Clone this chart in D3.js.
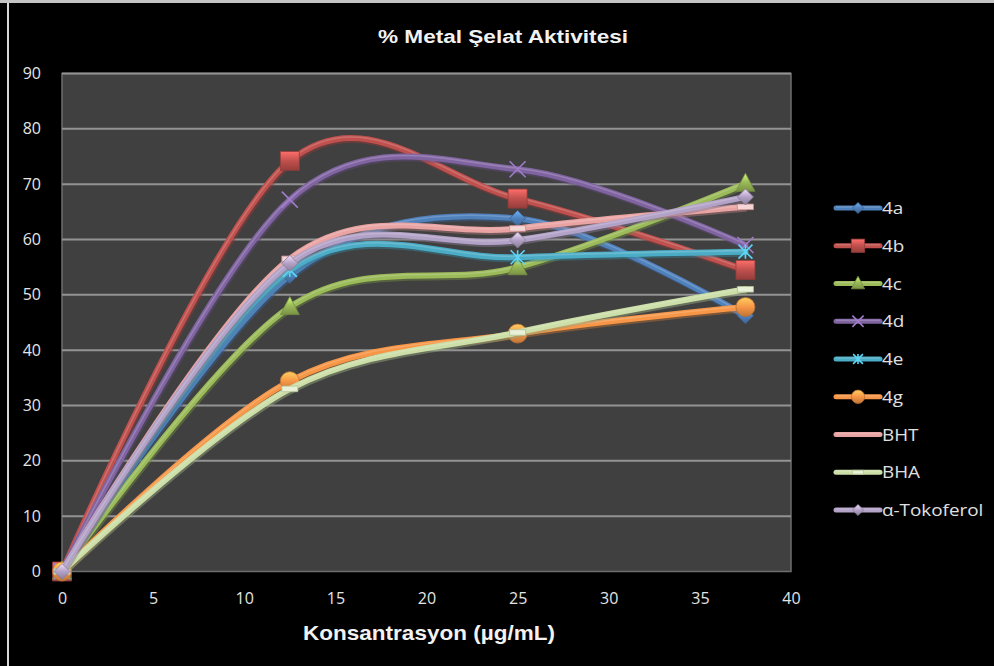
<!DOCTYPE html>
<html>
<head>
<meta charset="utf-8">
<script src="https://cdn.jsdelivr.net/npm/d3@7/dist/d3.min.js"></script>
<style>
  html, body { margin: 0; padding: 0; background: #000; }
  svg { display: block; }
</style>
</head>
<body>
<svg id="chart" width="994" height="666"></svg>
<script>
// Concentrations (µg/mL) on the x axis
const concentrations = [0, 12.5, 25, 37.5];

// % metal chelating activity per compound
const seriesNames = ["4a", "4b", "4c", "4d", "4e", "4g", "BHT", "BHA", "α-Tokoferol"];
const values4a  = [0, 53.5, 63.8, 46.2];
const values4b  = [0, 74.2, 67.4, 54.5];
const values4c  = [0, 47.8, 55.0, 70.1];
const values4d  = [0, 67.2, 72.7, 59.0];
const values4e  = [0, 54.5, 56.8, 57.8];
const values4g  = [0, 34.4, 43.0, 47.8];
const valuesBHT = [0, 56.5, 62.0, 65.9];
const valuesBHA = [0, 33.0, 43.2, 51.0];
const valuesToc = [0, 55.7, 59.9, 67.7];

const xTicks = [0, 5, 10, 15, 20, 25, 30, 35, 40];
const yTicks = [0, 10, 20, 30, 40, 50, 60, 70, 80, 90];

const seriesColors  = ["#4F81BD", "#C0504D", "#9BBB59", "#8064A2", "#4BACC6", "#F79646", "#E9A3A3", "#CCDFA8", "#B3A2C7"];
const markerTypes   = ["diamond", "square", "triangle", "x", "star", "circle", "dash", "dash", "diamond"];

const allValues = [values4a, values4b, values4c, values4d, values4e, values4g, valuesBHT, valuesBHA, valuesToc];
const series = seriesNames.map((name, i) => ({
  name, color: seriesColors[i], marker: markerTypes[i],
  points: concentrations.map((c, j) => ({ x: c, y: allValues[i][j] }))
}));

const svg = d3.select("#chart");
const W = 994, H = 666;
const plot = { left: 62, right: 791, top: 73.5, bottom: 571.5 };

// frame of the picture
svg.append("rect").attr("width", W).attr("height", H).attr("fill", "#000");
svg.append("rect").attr("x", 0).attr("y", 0).attr("width", W).attr("height", 3).attr("fill", "#c4c4c4");
svg.append("rect").attr("x", 7).attr("y", 3).attr("width", 2).attr("height", H - 3).attr("fill", "#d8d8d8");

const x = d3.scaleLinear().domain([0, 40]).range([plot.left, plot.right]);
const y = d3.scaleLinear().domain([0, 90]).range([plot.bottom, plot.top]);

const defs = svg.append("defs");
series.forEach((s, i) => {
  const c = d3.color(s.color);
  const g = defs.append("linearGradient").attr("id", "mk" + i)
    .attr("x1", 0).attr("y1", 0).attr("x2", 0).attr("y2", 1);
  g.append("stop").attr("offset", "0%").attr("stop-color", c.brighter(0.9));
  g.append("stop").attr("offset", "50%").attr("stop-color", c);
  g.append("stop").attr("offset", "100%").attr("stop-color", c.darker(0.7));
});

// plot area
svg.append("rect")
  .attr("x", plot.left).attr("y", plot.top)
  .attr("width", plot.right - plot.left).attr("height", plot.bottom - plot.top)
  .attr("fill", "#404040").attr("stroke", "#6e6e6e").attr("stroke-width", 1.5);

// horizontal gridlines
svg.append("g").selectAll("line").data(yTicks.filter(d => d > 0)).join("line")
  .attr("x1", plot.left).attr("x2", plot.right)
  .attr("y1", d => y(d)).attr("y2", d => y(d))
  .attr("stroke", "#939393").attr("stroke-width", 2);

// axes
const yAxis = svg.append("g").attr("transform", `translate(${plot.left},0)`)
  .call(d3.axisLeft(y).tickValues(yTicks).tickSize(0).tickPadding(21));
const xAxis = svg.append("g").attr("transform", `translate(0,${plot.bottom})`)
  .call(d3.axisBottom(x).tickValues(xTicks).tickSize(0).tickPadding(21));
[yAxis, xAxis].forEach(a => {
  a.select(".domain").remove();
  a.selectAll("text").attr("fill", "#e4e4e4")
    .style("font-family", "'Open Sans', 'Noto Sans', sans-serif").style("font-size", "16px");
});

// titles
svg.append("text").attr("x", 503).attr("y", 43).attr("text-anchor", "middle")
  .attr("fill", "#f2f2f2").style("font-family", "'Liberation Sans', Arial, sans-serif")
  .style("font-weight", "bold").style("font-size", "18px")
  .attr("textLength", 250).attr("lengthAdjust", "spacingAndGlyphs")
  .text("% Metal Şelat Aktivitesi");
svg.append("text").attr("x", 429).attr("y", 640).attr("text-anchor", "middle")
  .attr("fill", "#f2f2f2").style("font-family", "'Liberation Sans', Arial, sans-serif")
  .style("font-weight", "bold").style("font-size", "21px")
  .attr("textLength", 252).attr("lengthAdjust", "spacingAndGlyphs")
  .text("Konsantrasyon (µg/mL)");

function markerPath(type, s) {
  switch (type) {
    case "diamond":  return `M0,${-s}L${s},0L0,${s}L${-s},0Z`;
    case "square":   return `M${-s},${-s}H${s}V${s}H${-s}Z`;
    case "triangle": return `M0,${-s * 1.1}L${s},${s * 0.8}L${-s},${s * 0.8}Z`;
    case "circle":   return `M${-s},0A${s},${s} 0 1,0 ${s},0A${s},${s} 0 1,0 ${-s},0Z`;
    case "x":        return `M${-s},${-s}L${s},${s}M${s},${-s}L${-s},${s}`;
    case "star":     return `M${-s},${-s}L${s},${s}M${s},${-s}L${-s},${s}M0,${-s}L0,${s}`;
    case "dash":     return `M${-s},${-s * 0.35}H${s}V${s * 0.35}H${-s}Z`;
  }
}
const markerSize = { diamond: 8, square: 9.5, triangle: 9.5, circle: 9.5, x: 8, star: 7, dash: 8 };

function drawMarker(sel, s, i, scale) {
  const r = markerSize[s.marker] * scale;
  const p = sel.append("path").attr("d", markerPath(s.marker, r));
  if (s.marker === "x" || s.marker === "star") {
    p.attr("fill", "none").attr("stroke", d3.color(s.color).brighter(0.6)).attr("stroke-width", 1.6);
  } else if (s.marker === "dash") {
    p.attr("fill", d3.interpolateRgb(s.color, "#ffffff")(0.55)).attr("stroke", d3.color(s.color).darker(0.4)).attr("stroke-width", 0.8);
  } else {
    p.attr("fill", `url(#mk${i})`).attr("stroke", d3.color(s.color).darker(0.8)).attr("stroke-width", 0.8);
  }
}

// smoothed series lines
const line = d3.line().x(d => x(d.x)).y(d => y(d.y)).curve(d3.curveCardinal.tension(0));
const seriesG = svg.append("g");
series.forEach((s, i) => {
  const g = seriesG.append("g");
  g.append("path").attr("d", line(s.points)).attr("fill", "none")
    .attr("stroke", d3.color(s.color).darker(0.9)).attr("stroke-width", 7).attr("stroke-opacity", 0.5)
    .attr("transform", "translate(1,1.5)");
  g.append("path").attr("d", line(s.points)).attr("fill", "none")
    .attr("stroke", s.color).attr("stroke-width", 6).attr("stroke-linecap", "round");
  g.append("path").attr("d", line(s.points)).attr("fill", "none")
    .attr("stroke", "#ffffff").attr("stroke-opacity", 0.18).attr("stroke-width", 1.6)
    .attr("transform", "translate(0,-1)");
  s.points.forEach(pt => {
    const m = g.append("g").attr("transform", `translate(${x(pt.x)},${y(pt.y)})`);
    drawMarker(m, s, i, 1);
  });
});

// legend
const legend = svg.append("g");
const legendTop = 208, legendStep = 37.75;
series.forEach((s, i) => {
  const ly = legendTop + i * legendStep;
  const g = legend.append("g").attr("transform", `translate(0,${ly})`);
  g.append("line").attr("x1", 836).attr("x2", 880).attr("y1", 0).attr("y2", 0)
    .attr("stroke", s.color).attr("stroke-width", 5).attr("stroke-linecap", "round");
  g.append("line").attr("x1", 836).attr("x2", 880).attr("y1", -1).attr("y2", -1)
    .attr("stroke", "#fff").attr("stroke-opacity", 0.18).attr("stroke-width", 1.4);
  if (s.name !== "BHT") {
    const m = g.append("g").attr("transform", "translate(858,0)");
    drawMarker(m, s, i, 0.7);
  }
  g.append("text").attr("transform", "translate(882,6) scale(1.18,1)").attr("fill", "#e0e0e0")
    .style("font-family", "'Open Sans', 'Noto Sans', sans-serif").style("font-size", "16px")
    .text(s.name);
});
</script>
</body>
</html>
